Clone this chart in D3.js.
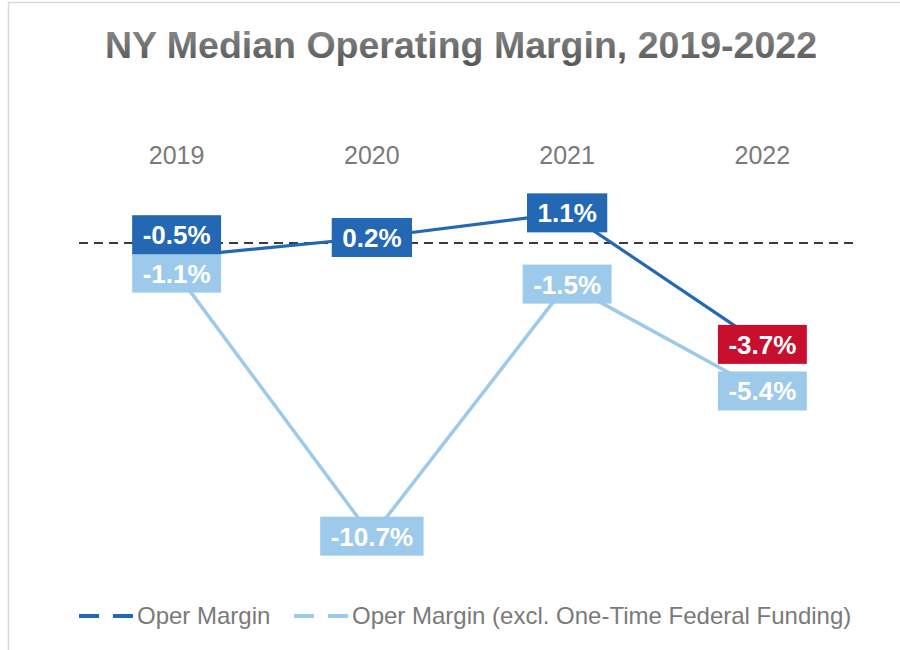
<!doctype html>
<html>
  <head>
    <script src="https://cdnjs.cloudflare.com/ajax/libs/d3/7.8.5/d3.min.js"></script>
    <style>
      body { margin: 0; background: white; }
      svg { font-family: "Liberation Sans", Arial, sans-serif; }
      text.cat { font-size: 25px; fill: #7a7a7a; text-anchor: middle; }
      text.val { font-size: 26px; font-weight: bold; fill: white; text-anchor: middle; }
      text.leg { font-size: 24px; fill: #7a7a7a; }
    </style>
  </head>
  <body>
    <svg width="900" height="650"></svg>

    <script>
      // chart data
      const years = ["2019", "2020", "2021", "2022"];
      const operMargin = [-0.5, 0.2, 1.1, -3.7];
      const operMarginExcl = [-1.1, -10.7, -1.5, -5.4];
      const seriesNames = ["Oper Margin", "Oper Margin (excl. One-Time Federal Funding)"];

      const dark = "#2468b3", light = "#9dcaeb", red = "#c8102e";

      const svg = d3.select("svg");

      // frame
      svg.append("rect")
        .attr("x", 8.5).attr("y", 2.5)
        .attr("width", 900).attr("height", 660)
        .attr("fill", "none")
        .attr("stroke", "#d9d9d9")
        .attr("stroke-width", 1.5);

      // title with a soft grey gradient
      const grad = svg.append("defs").append("linearGradient")
        .attr("id", "titleGrad").attr("x1", 0).attr("y1", 0).attr("x2", 0).attr("y2", 1);
      grad.append("stop").attr("offset", "0%").attr("stop-color", "#8f8f8f");
      grad.append("stop").attr("offset", "100%").attr("stop-color", "#555555");

      svg.append("text")
        .attr("x", 461).attr("y", 58)
        .attr("text-anchor", "middle")
        .style("font-size", "37.5px").style("font-weight", "bold")
        .attr("fill", "url(#titleGrad)")
        .text("NY Median Operating Margin, 2019-2022");

      const x = d3.scaleBand().domain(years).range([79, 860]);
      const y = d3.scaleLinear().domain([2, -13]).range([188.2, 599.2]);
      const cx = d => x(d) + x.bandwidth() / 2;

      // category labels on top
      svg.append("g").selectAll("text")
        .data(years)
        .enter().append("text")
          .attr("class", "cat")
          .attr("x", d => cx(d))
          .attr("y", 164)
          .text(d => d);

      // zero line
      svg.append("line")
        .attr("x1", x.range()[0]).attr("x2", x.range()[1] - 2)
        .attr("y1", y(0)).attr("y2", y(0))
        .attr("stroke", "#3a3a3a")
        .attr("stroke-width", 2)
        .attr("stroke-dasharray", "9,6");

      const pts = vals => vals.map((v, i) => ({ year: years[i], v: v }));
      const line = d3.line().x(d => cx(d.year)).y(d => y(d.v));

      const lightPts = pts(operMarginExcl), darkPts = pts(operMargin);

      svg.append("path").datum(lightPts)
        .attr("d", line).attr("fill", "none")
        .attr("stroke", light).attr("stroke-width", 3.5);
      svg.append("path").datum(darkPts)
        .attr("d", line).attr("fill", "none")
        .attr("stroke", dark).attr("stroke-width", 3.2);

      const fmt = v => v.toFixed(1) + "%";

      function labels(data, colorFn, dyFn) {
        const g = svg.append("g").selectAll("g")
          .data(data)
          .enter().append("g")
            .attr("transform", d => `translate(${cx(d.year)},${y(d.v) + dyFn(d)})`);
        g.append("rect").attr("fill", colorFn);
        g.append("text")
          .attr("class", "val")
          .attr("y", 9.5)
          .text(d => fmt(d.v))
          .each(function() {
            const w = this.getComputedTextLength() + 21;
            d3.select(this.parentNode).select("rect")
              .attr("x", -w / 2).attr("y", -19.5)
              .attr("width", w).attr("height", 39);
          });
      }

      labels(lightPts, () => light, () => 0);
      labels(darkPts,
        (d, i) => i === darkPts.length - 1 ? red : dark,
        d => d.year === "2019" ? -22 : 0);

      // legend
      const legend = [
        { name: seriesNames[0], color: dark, x: 79 },
        { name: seriesNames[1], color: light, x: 294 }
      ];
      const lg = svg.append("g").selectAll("g")
        .data(legend)
        .enter().append("g")
          .attr("transform", d => `translate(${d.x},616)`);
      lg.append("line")
        .attr("x1", 0).attr("x2", 54)
        .attr("stroke", d => d.color)
        .attr("stroke-width", 4)
        .attr("stroke-dasharray", "20,14");
      lg.append("text")
        .attr("class", "leg")
        .attr("x", 58).attr("y", 8)
        .text(d => d.name);
    </script>
  </body>
</html>
